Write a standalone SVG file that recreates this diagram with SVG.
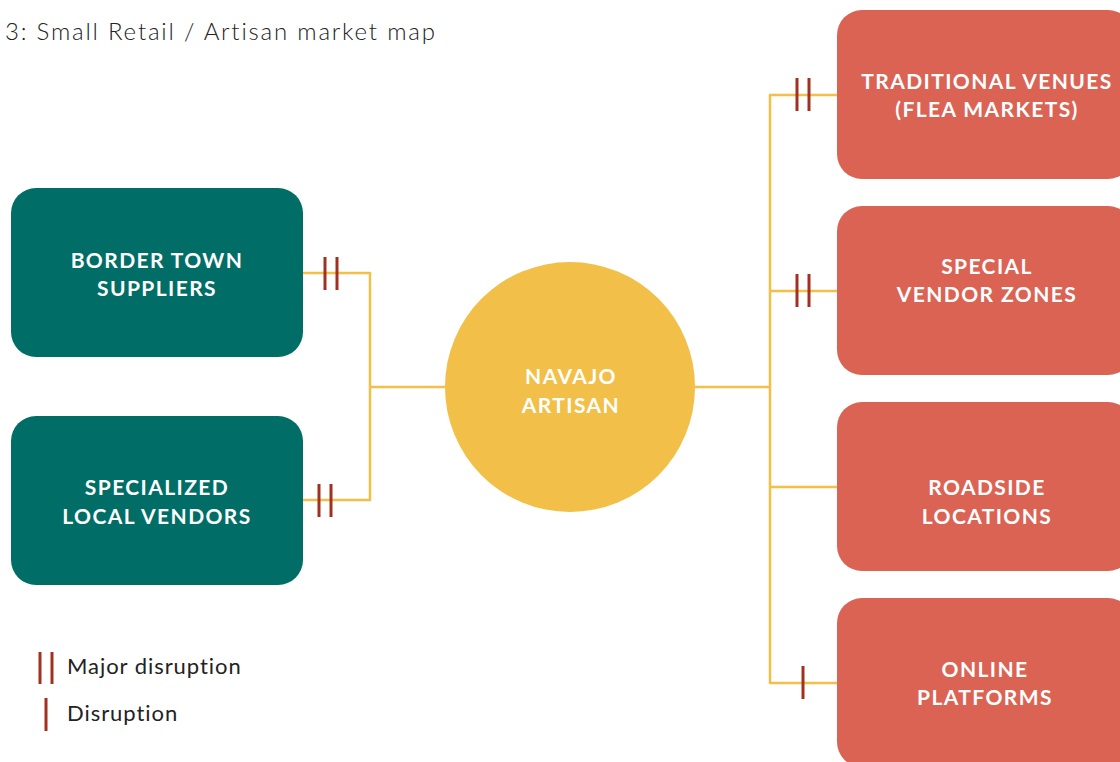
<svg xmlns="http://www.w3.org/2000/svg" width="1120" height="762" viewBox="0 0 1120 762">
<style>
.teal{fill:#006E66}
.coral{fill:#DB6354}
.hub{fill:#F2C048}
.lbl{font-family:Lato,"Open Sans",sans-serif;font-weight:700;font-size:21px;letter-spacing:1.4px;fill:#ffffff;text-anchor:middle}
.ln{stroke:#F2C048;stroke-width:2.5;fill:none;stroke-linejoin:round}
.mk{stroke:#A0301F;stroke-width:3}
.title{font-family:Lato,"Open Sans",sans-serif;font-weight:300;font-size:24px;letter-spacing:1.8px;fill:#222}
.leg{font-family:Lato,"Open Sans",sans-serif;font-weight:400;font-size:22px;letter-spacing:0.95px;fill:#222}
</style>
<rect width="1120" height="762" fill="#ffffff"/>
<text class="title" x="5" y="40">3: Small Retail / Artisan market map</text>
<g id="connectors">
<path class="ln" d="M303,273 H370 V500 H303 M370,387 H445"/>
<path class="ln" d="M695,387 H770 M837,95 H770 V683 H837 M770,291 H837 M770,487 H837"/>
<line class="mk" x1="325" y1="257" x2="325" y2="290"/>
<line class="mk" x1="337" y1="257" x2="337" y2="290"/>
<line class="mk" x1="319" y1="484" x2="319" y2="517"/>
<line class="mk" x1="331" y1="484" x2="331" y2="517"/>
<line class="mk" x1="797" y1="78" x2="797" y2="111"/>
<line class="mk" x1="809" y1="78" x2="809" y2="111"/>
<line class="mk" x1="797" y1="274" x2="797" y2="307"/>
<line class="mk" x1="809" y1="274" x2="809" y2="307"/>
<line class="mk" x1="803" y1="666" x2="803" y2="699"/>
</g>
<g id="border-town-suppliers">
<rect class="teal" x="11" y="188" width="292" height="169" rx="25"/>
<text class="lbl" x="157" y="268">BORDER TOWN</text>
<text class="lbl" x="157" y="296">SUPPLIERS</text>
</g>
<g id="specialized-local-vendors">
<rect class="teal" x="11" y="416" width="292" height="169" rx="25"/>
<text class="lbl" x="157" y="495">SPECIALIZED</text>
<text class="lbl" x="157" y="524">LOCAL VENDORS</text>
</g>
<g id="navajo-artisan">
<circle class="hub" cx="570" cy="387" r="125"/>
<text class="lbl" x="571" y="384">NAVAJO</text>
<text class="lbl" x="571" y="413">ARTISAN</text>
</g>
<g id="traditional-venues">
<rect class="coral" x="837" y="10" width="296" height="169" rx="25"/>
<text class="lbl" x="987" y="89">TRADITIONAL VENUES</text>
<text class="lbl" x="987" y="117">(FLEA MARKETS)</text>
</g>
<g id="special-vendor-zones">
<rect class="coral" x="837" y="206" width="296" height="169" rx="25"/>
<text class="lbl" x="987" y="274">SPECIAL</text>
<text class="lbl" x="987" y="302">VENDOR ZONES</text>
</g>
<g id="roadside-locations">
<rect class="coral" x="837" y="402" width="296" height="169" rx="25"/>
<text class="lbl" x="987" y="495">ROADSIDE</text>
<text class="lbl" x="987" y="524">LOCATIONS</text>
</g>
<g id="online-platforms">
<rect class="coral" x="837" y="598" width="296" height="169" rx="25"/>
<text class="lbl" x="985" y="677">ONLINE</text>
<text class="lbl" x="985" y="705">PLATFORMS</text>
</g>
<g id="legend">
<line class="mk" x1="40" y1="652" x2="40" y2="684"/>
<line class="mk" x1="52" y1="652" x2="52" y2="684"/>
<line class="mk" x1="46" y1="698" x2="46" y2="731"/>
<text class="leg" x="67" y="674">Major disruption</text>
<text class="leg" x="67" y="721">Disruption</text>
</g>
</svg>
